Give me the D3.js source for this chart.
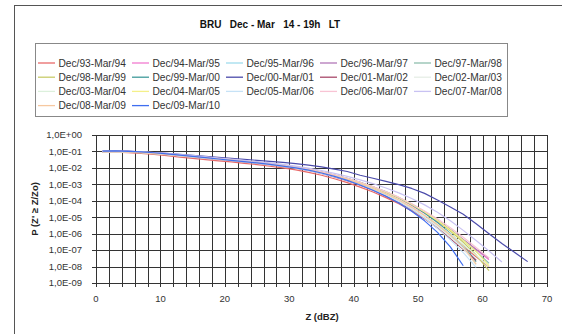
<!DOCTYPE html>
<html><head><meta charset="utf-8">
<script src="https://cdn.jsdelivr.net/npm/d3@7"></script>
<style>
html,body{margin:0;padding:0;background:#fff;}
svg{display:block;font-family:"Liberation Sans",Arial,sans-serif;}
</style></head>
<body><svg id="c" width="562" height="334"></svg>
<script>
const title = "BRU   Dec - Mar   14 - 19h   LT";
const seriesNames = ["Dec/93-Mar/94","Dec/94-Mar/95","Dec/95-Mar/96","Dec/96-Mar/97","Dec/97-Mar/98",
  "Dec/98-Mar/99","Dec/99-Mar/00","Dec/00-Mar/01","Dec/01-Mar/02","Dec/02-Mar/03",
  "Dec/03-Mar/04","Dec/04-Mar/05","Dec/05-Mar/06","Dec/06-Mar/07","Dec/07-Mar/08",
  "Dec/08-Mar/09","Dec/09-Mar/10"];
const seriesColors = ["#e86a6a","#f27ad0","#9fdcec","#b277b8","#8fbfae",
  "#c8cc6a","#3f9a9a","#4b4bab","#a8486a","#e6eee6",
  "#dcf0dc","#f4f08a","#c6e2f6","#f8c4d4","#c8c2f2",
  "#f6c8a0","#3f6ef0"];
// Z (dBZ) sample positions
const zValues = [1,3,5,7,9,11,13,15,17,19,21,23,25,27,29,31,33,35,37,39,41,43,45,47,49,51,53,55,57,59,61,63,65,67];
// log10 of P(Z' >= Z/Zo), one array per season
const s93 = [-1.05,-1.05,-1.08,-1.12,-1.18,-1.26,-1.34,-1.42,-1.50,-1.57,-1.64,-1.72,-1.80,-1.90,-2.00,-2.12,-2.27,-2.45,-2.66,-2.90,-3.17,-3.47,-3.81,-4.18,-4.62,-5.10,-5.62,-6.18,-6.78,-7.40,-8.02];
const s94 = [-1.00,-0.98,-1.00,-1.04,-1.09,-1.15,-1.22,-1.29,-1.36,-1.44,-1.51,-1.59,-1.67,-1.76,-1.86,-1.97,-2.10,-2.27,-2.46,-2.68,-2.93,-3.20,-3.52,-3.88,-4.30,-4.76,-5.26,-5.80,-6.38,-6.98,-7.58];
const s95 = [-1.03,-1.02,-1.03,-1.06,-1.11,-1.18,-1.25,-1.32,-1.39,-1.46,-1.53,-1.61,-1.69,-1.78,-1.88,-1.99,-2.13,-2.31,-2.51,-2.74,-3.00,-3.30,-3.64,-4.02,-4.48,-4.98,-5.54,-6.14,-6.80,-7.60];
const s96 = [-1.01,-1.00,-1.02,-1.05,-1.10,-1.16,-1.23,-1.30,-1.37,-1.44,-1.51,-1.58,-1.66,-1.75,-1.85,-1.96,-2.09,-2.26,-2.45,-2.66,-2.90,-3.17,-3.48,-3.83,-4.24,-4.70,-5.20,-5.75,-6.35,-6.95,-7.50];
const s97 = [-1.02,-1.01,-1.03,-1.06,-1.10,-1.16,-1.23,-1.30,-1.37,-1.44,-1.51,-1.59,-1.67,-1.76,-1.86,-1.97,-2.10,-2.26,-2.44,-2.65,-2.89,-3.16,-3.46,-3.80,-4.20,-4.66,-5.18,-5.76,-6.40,-7.08,-7.80];
const s98 = [-1.04,-1.03,-1.05,-1.08,-1.13,-1.19,-1.26,-1.33,-1.40,-1.47,-1.54,-1.62,-1.70,-1.79,-1.89,-2.00,-2.13,-2.29,-2.47,-2.68,-2.92,-3.19,-3.49,-3.83,-4.22,-4.68,-5.22,-5.84,-6.52,-7.30,-8.25];
const s99 = [-1.02,-1.01,-1.02,-1.05,-1.09,-1.15,-1.22,-1.29,-1.36,-1.43,-1.50,-1.58,-1.66,-1.75,-1.85,-1.96,-2.09,-2.25,-2.43,-2.64,-2.88,-3.15,-3.46,-3.82,-4.24,-4.74,-5.32,-5.98,-6.75,-7.70];
const s00 = [-0.98,-0.96,-0.98,-1.02,-1.07,-1.12,-1.18,-1.24,-1.30,-1.36,-1.42,-1.48,-1.54,-1.60,-1.66,-1.74,-1.83,-1.94,-2.07,-2.22,-2.45,-2.63,-2.82,-3.02,-3.25,-3.55,-3.95,-4.38,-4.82,-5.40,-6.00,-6.60,-7.15,-7.70];
const s01 = [-1.03,-1.02,-1.04,-1.07,-1.12,-1.19,-1.26,-1.34,-1.42,-1.49,-1.56,-1.64,-1.72,-1.81,-1.91,-2.02,-2.16,-2.34,-2.55,-2.78,-3.05,-3.35,-3.70,-4.08,-4.55,-5.08,-5.66,-6.30,-6.95,-7.62];
const s02 = [-1.02,-1.01,-1.03,-1.06,-1.11,-1.18,-1.25,-1.32,-1.39,-1.46,-1.53,-1.61,-1.69,-1.78,-1.88,-1.99,-2.13,-2.30,-2.50,-2.72,-2.98,-3.28,-3.62,-4.00,-4.46,-4.98,-5.56,-6.20,-6.90,-7.90];
const s03 = [-1.01,-1.00,-1.02,-1.05,-1.10,-1.16,-1.23,-1.30,-1.37,-1.44,-1.51,-1.59,-1.67,-1.76,-1.86,-1.97,-2.11,-2.28,-2.48,-2.70,-2.95,-3.24,-3.56,-3.92,-4.36,-4.86,-5.42,-6.02,-6.66,-7.32,-8.00];
const s04 = [-1.00,-0.99,-1.01,-1.04,-1.09,-1.15,-1.22,-1.29,-1.36,-1.43,-1.50,-1.58,-1.66,-1.75,-1.85,-1.96,-2.09,-2.25,-2.44,-2.65,-2.89,-3.16,-3.47,-3.82,-4.22,-4.68,-5.20,-5.78,-6.40,-7.08,-7.95];
const s05 = [-1.04,-1.03,-1.05,-1.08,-1.13,-1.20,-1.27,-1.35,-1.42,-1.49,-1.56,-1.64,-1.72,-1.81,-1.91,-2.02,-2.16,-2.33,-2.53,-2.76,-3.02,-3.32,-3.66,-4.05,-4.52,-5.06,-5.68,-6.38,-7.15,-8.05];
const s06 = [-1.01,-1.00,-1.01,-1.04,-1.08,-1.14,-1.21,-1.28,-1.35,-1.42,-1.49,-1.57,-1.65,-1.74,-1.84,-1.95,-2.08,-2.24,-2.42,-2.63,-2.87,-3.14,-3.44,-3.78,-4.18,-4.62,-5.10,-5.64,-6.22,-6.84,-7.48];
const s07 = [-1.00,-0.99,-1.00,-1.03,-1.07,-1.13,-1.19,-1.26,-1.33,-1.40,-1.47,-1.54,-1.62,-1.70,-1.79,-1.89,-2.01,-2.16,-2.33,-2.52,-2.73,-2.96,-3.22,-3.52,-3.86,-4.25,-4.70,-5.22,-5.80,-6.42,-7.05,-7.72];
const s08 = [-1.03,-1.02,-1.04,-1.07,-1.12,-1.18,-1.25,-1.32,-1.39,-1.46,-1.53,-1.61,-1.69,-1.78,-1.88,-1.99,-2.12,-2.29,-2.48,-2.70,-2.96,-3.25,-3.58,-3.95,-4.40,-4.90,-5.46,-6.08,-6.76,-7.85];
const s09 = [-0.98,-0.97,-0.99,-1.03,-1.08,-1.15,-1.22,-1.30,-1.38,-1.46,-1.54,-1.62,-1.70,-1.79,-1.89,-2.00,-2.14,-2.31,-2.52,-2.76,-3.04,-3.36,-3.72,-4.14,-4.64,-5.22,-5.92,-6.80,-7.95];
const seriesValues = [s93,s94,s95,s96,s97,s98,s99,s00,s01,s02,s03,s04,s05,s06,s07,s08,s09];
const xTicks = [0,10,20,30,40,50,60,70];
const yTickExps = [0,-1,-2,-3,-4,-5,-6,-7,-8,-9];
const yTickLabels = ["1,0E+00","1,0E-01","1,0E-02","1,0E-03","1,0E-04","1,0E-05","1,0E-06","1,0E-07","1,0E-08","1,0E-09"];
const xLabel = "Z (dBZ)";
const yLabel = "P (Z' \u2265 Z/Zo)";

const svg = d3.select("#c");
svg.append("rect").attr("width",562).attr("height",334).attr("fill","#fff");
// outer chart frame
svg.append("rect").attr("x",14.5).attr("y",5.5).attr("width",600).attr("height",400)
  .attr("fill","none").attr("stroke","#555").attr("stroke-width",1);

svg.append("text").attr("x",270).attr("y",28).attr("text-anchor","middle")
  .attr("font-size",10).attr("font-weight","bold").attr("fill","#111")
  .style("white-space","pre").text(title);

// legend
svg.append("rect").attr("x",35.5).attr("y",43.5).attr("width",472).attr("height",73)
  .attr("fill","#fff").attr("stroke","#888").attr("stroke-width",1);
const lg = svg.append("g");
seriesNames.forEach((n,i)=>{
  const col = i%5, row = Math.floor(i/5);
  const gx = 38 + col*94, gy = 63 + row*14.2;
  lg.append("line").attr("x1",gx).attr("x2",gx+17).attr("y1",gy).attr("y2",gy)
    .attr("stroke",seriesColors[i]).attr("stroke-width",1.3);
  lg.append("text").attr("x",gx+20.5).attr("y",gy+3.6).attr("font-size",10.2)
    .attr("fill","#333").text(n);
});

const x = d3.scaleLinear().domain([0,70]).range([96,547]);
const y = d3.scaleLinear().domain([-9,0]).range([283,135]);

const grid = svg.append("g").attr("stroke","#333").attr("stroke-width",1).attr("shape-rendering","crispEdges");
grid.selectAll("line.v").data(d3.range(0,71,2)).join("line")
  .attr("x1",d=>Math.round(x(d))+0.5).attr("x2",d=>Math.round(x(d))+0.5)
  .attr("y1",y(0)).attr("y2",y(-9)+4);
grid.selectAll("line.h").data(yTickExps).join("line")
  .attr("x1",x(0)-4).attr("x2",x(70)).attr("y1",d=>Math.round(y(d))+0.5).attr("y2",d=>Math.round(y(d))+0.5);

// y tick labels
svg.append("g").selectAll("text").data(yTickExps).join("text")
  .attr("x",82).attr("y",d=>y(d)+3.3).attr("text-anchor","end")
  .attr("font-size",9.5).attr("fill","#333").text((d,i)=>yTickLabels[i]);
// x tick labels
svg.append("g").selectAll("text").data(xTicks).join("text")
  .attr("x",d=>x(d)).attr("y",301.5).attr("text-anchor","middle")
  .attr("font-size",9.5).attr("fill","#333").text(d=>d);

svg.append("text").attr("x",322).attr("y",320).attr("text-anchor","middle")
  .attr("font-size",9.5).attr("font-weight","bold").attr("fill","#222").text(xLabel);
svg.append("text").attr("transform","translate(38,209) rotate(-90)").attr("text-anchor","middle")
  .attr("font-size",9.5).attr("font-weight","bold").attr("fill","#222").text(yLabel);

// data
const line = d3.line().x(d=>x(d[0])).y(d=>y(d[1]));
const lines = svg.append("g").attr("fill","none");
seriesValues.forEach((vals,i)=>{
  const pts = vals.map((v,j)=>[zValues[j],v]);
  lines.append("path").attr("d",line(pts)).attr("stroke",seriesColors[i])
    .attr("stroke-width",1.2).attr("stroke-linejoin","round");
});
</script></body></html>
